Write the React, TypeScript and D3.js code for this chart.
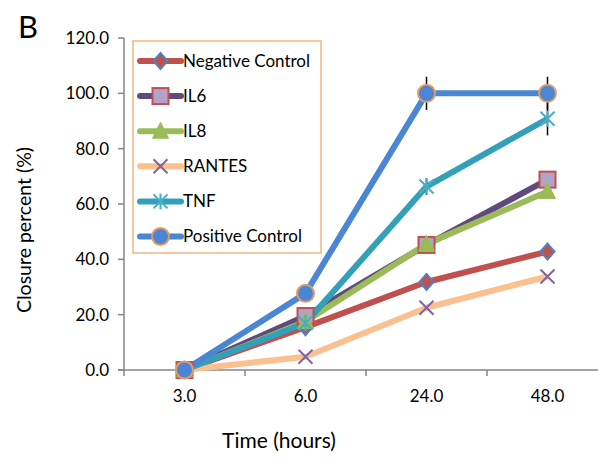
import React from "react";
import * as d3 from "d3";

const categories = ["3.0", "6.0", "24.0", "48.0"];
const yTicks = [0, 20, 40, 60, 80, 100, 120];
const seriesNames = ["Negative Control", "IL6", "IL8", "RANTES", "TNF", "Positive Control"];
const negativeControl = [0, 15.5, 31.8, 42.8];
const il6 = [0, 19.5, 45.2, 68.8];
const il8 = [0, 17.5, 45.5, 64.5];
const rantes = [0, 4.8, 22.5, 33.8];
const tnf = [0, 17, 66.3, 90.8];
const positiveControl = [0, 27.7, 100, 100];
const tnfErr = [0, 0, 3, 6];
const positiveErr = [0, 0, 6, 6];

const W = 598, H = 461;
const FONT = "Lato, 'Open Sans', sans-serif";

type Sym = "diamond" | "square" | "triangle" | "x" | "star" | "circle";
const styles: { line: string; fill: string; stroke: string; sym: Sym }[] = [
  { line: "#C0504D", fill: "#C0504D", stroke: "#4F81BD", sym: "diamond" },
  { line: "#604A7B", fill: "#B3A2C7", stroke: "#C0504D", sym: "square" },
  { line: "#9BBB59", fill: "#9BBB59", stroke: "#9BBB59", sym: "triangle" },
  { line: "#FAC090", fill: "none", stroke: "#8064A2", sym: "x" },
  { line: "#31A0B8", fill: "none", stroke: "#4BACC6", sym: "star" },
  { line: "#4A86D4", fill: "#4A86D4", stroke: "#E59A62", sym: "circle" },
];

function Marker({ x, y, s }: { x: number; y: number; s: typeof styles[number] }) {
  switch (s.sym) {
    case "diamond":
      return <path d={`M${x},${y - 8}L${x + 7},${y}L${x},${y + 8}L${x - 7},${y}Z`} fill={s.fill} stroke={s.stroke} strokeWidth={2} />;
    case "square":
      return <rect x={x - 8} y={y - 8} width={16} height={16} fill={s.fill} stroke={s.stroke} strokeWidth={2} />;
    case "triangle":
      return <path d={`M${x},${y - 9}L${x + 8},${y + 7}L${x - 8},${y + 7}Z`} fill={s.fill} stroke={s.stroke} strokeWidth={1} />;
    case "x":
      return <path d={`M${x - 7},${y - 7}L${x + 7},${y + 7}M${x - 7},${y + 7}L${x + 7},${y - 7}`} stroke={s.stroke} strokeWidth={2} />;
    case "star":
      return <path d={`M${x - 7},${y - 7}L${x + 7},${y + 7}M${x - 7},${y + 7}L${x + 7},${y - 7}M${x},${y - 8}L${x},${y + 8}`} stroke={s.stroke} strokeWidth={2} />;
    case "circle":
      return <circle cx={x} cy={y} r={8.5} fill={s.fill} stroke={s.stroke} strokeWidth={2} />;
  }
}

export default function App() {
  const data = [negativeControl, il6, il8, rantes, tnf, positiveControl];
  const errs: (number[] | null)[] = [null, null, null, null, tnfErr, positiveErr];
  const x = d3.scaleBand<string>().domain(categories).range([124, 608]);
  const y = d3.scaleLinear().domain([0, 120]).range([370, 38]);
  const cx = (c: string) => (x(c) as number) + x.bandwidth() / 2;
  const line = d3.line<number>().x((_, i) => cx(categories[i])).y((d) => y(d));
  const axisColor = "#868686";
  const legendX = 133, legendY = 41, legendRowH = 35.1;

  return (
    <svg width={W} height={H} style={{ position: "absolute", left: 0, top: 0, background: "#fff" }} fontFamily={FONT}>
      <rect width={W} height={H} fill="#fff" />
      <text x={18} y={38} fontSize={31} fill="#000">B</text>
      {/* Y axis */}
      <line x1={124} x2={124} y1={y(120)} y2={y(0)} stroke={axisColor} strokeWidth={1.5} />
      {yTicks.map((t) => (
        <g key={t}>
          <line x1={118} x2={124} y1={y(t)} y2={y(t)} stroke={axisColor} strokeWidth={1.5} />
          <text x={109} y={y(t)} dy="0.35em" textAnchor="end" fontSize={17} fill="#000">{t.toFixed(1)}</text>
        </g>
      ))}
      {/* X axis */}
      <line x1={118} x2={W} y1={y(0)} y2={y(0)} stroke={axisColor} strokeWidth={1.5} />
      {categories.map((c) => (
        <g key={c}>
          <line x1={x(c) as number} x2={x(c) as number} y1={y(0)} y2={y(0) + 6} stroke={axisColor} strokeWidth={1.5} />
          <text x={cx(c)} y={402} textAnchor="middle" fontSize={17} fill="#000">{c}</text>
        </g>
      ))}
      <text x={279} y={448} textAnchor="middle" fontSize={21} fill="#000">Time (hours)</text>
      <text transform={`translate(31,230) rotate(-90)`} textAnchor="middle" fontSize={19.5} fill="#000">Closure percent (%)</text>
      {/* Lines */}
      {data.map((d, i) => (
        <path key={i} d={line(d) as string} fill="none" stroke={styles[i].line} strokeWidth={6} strokeLinejoin="round" />
      ))}
      {/* Error bars */}
      {errs.map((e, i) =>
        e ? e.map((v, j) => v > 0 ? (
          <line key={`${i}-${j}`} x1={cx(categories[j])} x2={cx(categories[j])} y1={y(data[i][j] + v)} y2={y(data[i][j] - v)} stroke="#000" strokeWidth={1.5} />
        ) : null) : null
      )}
      {/* Markers */}
      {data.map((d, i) => d.map((v, j) => <Marker key={`${i}-${j}`} x={cx(categories[j])} y={y(v)} s={styles[i]} />))}
      {/* Legend */}
      <rect x={legendX} y={legendY} width={188} height={212} fill="#fff" stroke="#F5B47E" strokeWidth={1.5} />
      {seriesNames.map((n, i) => {
        const ly = legendY + 20 + i * legendRowH;
        return (
          <g key={n}>
            <line x1={140} x2={181} y1={ly} y2={ly} stroke={styles[i].line} strokeWidth={6} strokeLinecap="round" />
            <Marker x={160.5} y={ly} s={styles[i]} />
            <text x={183} y={ly} dy="0.35em" fontSize={17} fill="#000">{n}</text>
          </g>
        );
      })}
    </svg>
  );
}
